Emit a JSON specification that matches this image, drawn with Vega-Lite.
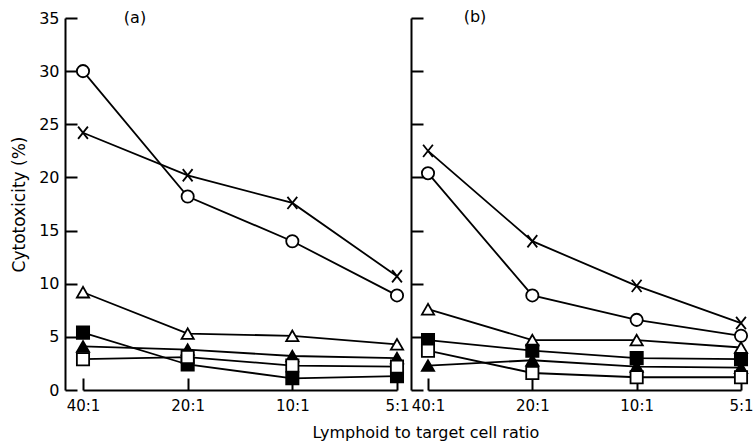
{
  "$schema": "https://vega.github.io/schema/vega-lite/v6.json",
  "background": "white",
  "padding": {"top": 9, "left": 10, "right": 0, "bottom": 3},
  "datasets": {
    "pts": [
      {"panel": "a", "r": 40, "series": "open circle", "v": 30.0},
      {"panel": "a", "r": 20, "series": "open circle", "v": 18.2},
      {"panel": "a", "r": 10, "series": "open circle", "v": 14.0},
      {"panel": "a", "r": 5, "series": "open circle", "v": 8.9},
      {"panel": "a", "r": 40, "series": "cross", "v": 24.2},
      {"panel": "a", "r": 20, "series": "cross", "v": 20.2},
      {"panel": "a", "r": 10, "series": "cross", "v": 17.6},
      {"panel": "a", "r": 5, "series": "cross", "v": 10.7},
      {"panel": "a", "r": 40, "series": "open triangle", "v": 9.2},
      {"panel": "a", "r": 20, "series": "open triangle", "v": 5.3},
      {"panel": "a", "r": 10, "series": "open triangle", "v": 5.1},
      {"panel": "a", "r": 5, "series": "open triangle", "v": 4.3},
      {"panel": "a", "r": 40, "series": "filled square", "v": 5.4},
      {"panel": "a", "r": 20, "series": "filled square", "v": 2.4},
      {"panel": "a", "r": 10, "series": "filled square", "v": 1.1},
      {"panel": "a", "r": 5, "series": "filled square", "v": 1.3},
      {"panel": "a", "r": 40, "series": "filled triangle", "v": 4.1},
      {"panel": "a", "r": 20, "series": "filled triangle", "v": 3.8},
      {"panel": "a", "r": 10, "series": "filled triangle", "v": 3.2},
      {"panel": "a", "r": 5, "series": "filled triangle", "v": 3.0},
      {"panel": "a", "r": 40, "series": "open square", "v": 2.9},
      {"panel": "a", "r": 20, "series": "open square", "v": 3.1},
      {"panel": "a", "r": 10, "series": "open square", "v": 2.3},
      {"panel": "a", "r": 5, "series": "open square", "v": 2.2},
      {"panel": "b", "r": 40, "series": "open circle", "v": 20.4},
      {"panel": "b", "r": 20, "series": "open circle", "v": 8.9},
      {"panel": "b", "r": 10, "series": "open circle", "v": 6.6},
      {"panel": "b", "r": 5, "series": "open circle", "v": 5.1},
      {"panel": "b", "r": 40, "series": "cross", "v": 22.5},
      {"panel": "b", "r": 20, "series": "cross", "v": 14.0},
      {"panel": "b", "r": 10, "series": "cross", "v": 9.8},
      {"panel": "b", "r": 5, "series": "cross", "v": 6.3},
      {"panel": "b", "r": 40, "series": "open triangle", "v": 7.6},
      {"panel": "b", "r": 20, "series": "open triangle", "v": 4.7},
      {"panel": "b", "r": 10, "series": "open triangle", "v": 4.7},
      {"panel": "b", "r": 5, "series": "open triangle", "v": 4.0},
      {"panel": "b", "r": 40, "series": "filled square", "v": 4.7},
      {"panel": "b", "r": 20, "series": "filled square", "v": 3.7},
      {"panel": "b", "r": 10, "series": "filled square", "v": 3.0},
      {"panel": "b", "r": 5, "series": "filled square", "v": 2.9},
      {"panel": "b", "r": 40, "series": "filled triangle", "v": 2.3},
      {"panel": "b", "r": 20, "series": "filled triangle", "v": 2.8},
      {"panel": "b", "r": 10, "series": "filled triangle", "v": 2.2},
      {"panel": "b", "r": 5, "series": "filled triangle", "v": 2.1},
      {"panel": "b", "r": 40, "series": "open square", "v": 3.7},
      {"panel": "b", "r": 20, "series": "open square", "v": 1.6},
      {"panel": "b", "r": 10, "series": "open square", "v": 1.2},
      {"panel": "b", "r": 5, "series": "open square", "v": 1.2}
    ]
  },
  "config": {
    "view": {"stroke": null},
    "font": "DejaVu Sans",
    "concat": {"spacing": 0},
    "axis": {
      "grid": false,
      "domainColor": "black",
      "domainWidth": 2,
      "tickColor": "black",
      "tickWidth": 2,
      "tickSize": -12,
      "labelColor": "black",
      "labelFontSize": 15,
      "titleColor": "black",
      "titleFontWeight": "normal",
      "titleFontSize": 17
    }
  },
  "title": {
    "text": "Lymphoid to target cell ratio",
    "orient": "bottom",
    "anchor": "middle",
    "fontSize": 16,
    "fontWeight": "normal",
    "color": "black",
    "offset": 12,
    "dx": 44
  },
  "hconcat": [
    {
      "width": 343,
      "height": 372,
      "layer": [
        {
          "data": {"name": "pts"},
          "transform": [{"filter": "datum.panel === 'a'"}],
          "mark": {"type": "line", "color": "black", "strokeWidth": 1.8},
          "encoding": {
            "x": {"field": "r", "type": "ordinal", "sort": "descending", "scale": {"type": "point", "range": [18, 332], "padding": 0},
                  "axis": {"title": null, "labelExpr": "datum.value + ':1'", "labelPadding": 20, "labelAngle": 0}},
            "y": {"field": "v", "type": "quantitative", "scale": {"domain": [0, 35], "nice": false},
                  "axis": {"title": "Cytotoxicity (%)", "values": [0, 5, 10, 15, 20, 25, 30, 35], "labelPadding": 18, "labelFontSize": 16, "titlePadding": 10}},
            "detail": {"field": "series"},
            "order": {"field": "r", "sort": "descending"}
          }
        },
        {
          "data": {"name": "pts"},
          "transform": [{"filter": "datum.panel === 'a'"}],
          "mark": {"type": "point", "filled": false, "opacity": 1, "strokeWidth": 1.8, "size": 150},
          "encoding": {
            "x": {"field": "r", "type": "ordinal", "sort": "descending"},
            "y": {"field": "v", "type": "quantitative"},
            "shape": {"field": "series", "type": "nominal", "legend": null,
              "scale": {"domain": ["open circle", "cross", "open triangle", "filled square", "filled triangle", "open square"],
                        "range": ["circle", "M-0.8,-1L0.8,1M0.8,-1L-0.8,1", "triangle-up", "square", "triangle-up", "square"]}},
            "fill": {"field": "series", "type": "nominal", "legend": null,
              "scale": {"domain": ["open circle", "cross", "open triangle", "filled square", "filled triangle", "open square"],
                        "range": ["white", "transparent", "white", "black", "black", "white"]}},
            "stroke": {"value": "black"}
          }
        },
        {
          "data": {"values": [{"t": "(a)"}]},
          "mark": {"type": "text", "fontSize": 16, "dx": 52, "align": "center", "baseline": "middle", "color": "black"},
          "encoding": {
            "x": {"datum": 40, "type": "ordinal"},
            "y": {"datum": 35, "type": "quantitative"},
            "text": {"field": "t"}
          }
        }
      ]
    },
    {
      "width": 340,
      "height": 372,
      "layer": [
        {
          "data": {"name": "pts"},
          "transform": [{"filter": "datum.panel === 'b'"}],
          "mark": {"type": "line", "color": "black", "strokeWidth": 1.8},
          "encoding": {
            "x": {"field": "r", "type": "ordinal", "sort": "descending", "scale": {"type": "point", "range": [17, 330], "padding": 0},
                  "axis": {"title": null, "labelExpr": "datum.value + ':1'", "labelPadding": 20, "labelAngle": 0}},
            "y": {"field": "v", "type": "quantitative", "scale": {"domain": [0, 35], "nice": false},
                  "axis": {"title": null, "labels": false, "values": [0, 5, 10, 15, 20, 25, 30, 35]}},
            "detail": {"field": "series"},
            "order": {"field": "r", "sort": "descending"}
          }
        },
        {
          "data": {"name": "pts"},
          "transform": [{"filter": "datum.panel === 'b'"}],
          "mark": {"type": "point", "filled": false, "opacity": 1, "strokeWidth": 1.8, "size": 150},
          "encoding": {
            "x": {"field": "r", "type": "ordinal", "sort": "descending"},
            "y": {"field": "v", "type": "quantitative"},
            "shape": {"field": "series", "type": "nominal", "legend": null,
              "scale": {"domain": ["open circle", "cross", "open triangle", "filled square", "filled triangle", "open square"],
                        "range": ["circle", "M-0.8,-1L0.8,1M0.8,-1L-0.8,1", "triangle-up", "square", "triangle-up", "square"]}},
            "fill": {"field": "series", "type": "nominal", "legend": null,
              "scale": {"domain": ["open circle", "cross", "open triangle", "filled square", "filled triangle", "open square"],
                        "range": ["white", "transparent", "white", "black", "black", "white"]}},
            "stroke": {"value": "black"}
          }
        },
        {
          "data": {"values": [{"t": "(b)"}]},
          "mark": {"type": "text", "fontSize": 16, "dx": 47, "dy": -1, "align": "center", "baseline": "middle", "color": "black"},
          "encoding": {
            "x": {"datum": 40, "type": "ordinal"},
            "y": {"datum": 35, "type": "quantitative"},
            "text": {"field": "t"}
          }
        }
      ]
    }
  ]
}
